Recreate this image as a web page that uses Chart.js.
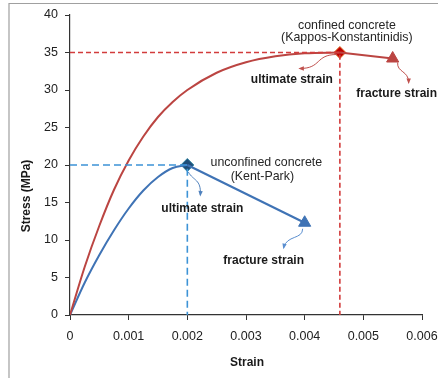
<!DOCTYPE html>
<html><head><meta charset="utf-8">
<script src="https://cdn.jsdelivr.net/npm/chart.js@4"></script>
<style>html,body{margin:0;padding:0;background:#fff}#wrap{position:relative;width:438px;height:378px}</style>
</head><body><div id="wrap"><canvas id="c" width="438" height="378"></canvas></div>
<script>
// ---- data ----
const confinedStrain = [0, 0.00025, 0.0005, 0.00075, 0.001, 0.00125, 0.0015, 0.00175, 0.002, 0.0025, 0.003, 0.0035, 0.004, 0.0046];
const confinedStress = [0, 6.4, 11.9, 16.7, 20.6, 23.8, 26.4, 28.4, 30.0, 32.3, 33.7, 34.5, 34.9, 35.0];
const confinedFractureStrain = 0.0055;
const confinedFractureStress = 34.2;
const unconfinedStrain = [0, 0.00025, 0.0005, 0.00075, 0.001, 0.00125, 0.0015, 0.00175, 0.002];
const unconfinedStress = [0, 4.3, 8.0, 11.3, 14.2, 16.6, 18.4, 19.6, 20.0];
const unconfinedFractureStrain = 0.004;
const unconfinedFractureStress = 12.3;
const xTickValues = [0, 0.001, 0.002, 0.003, 0.004, 0.005, 0.006];
const xTickLabels = ['0', '0.001', '0.002', '0.003', '0.004', '0.005', '0.006'];
const yTickValues = [0, 5, 10, 15, 20, 25, 30, 35, 40];
const yTickLabels = ['0', '5', '10', '15', '20', '25', '30', '35', '40'];
const xTitle = 'Strain';
const yTitle = 'Stress (MPa)';

const RED = '#bb4542', BLUE = '#3f73b5';
const pts = (xs, ys) => xs.map((x, i) => ({x, y: ys[i]}));
const cPeakX = confinedStrain[confinedStrain.length - 1], cPeakY = confinedStress[confinedStress.length - 1];
const uPeakX = unconfinedStrain[unconfinedStrain.length - 1], uPeakY = unconfinedStress[unconfinedStress.length - 1];

const datasets = [
  {data: [{x: 0, y: cPeakY}, {x: cPeakX, y: cPeakY}, {x: cPeakX, y: 0}], borderColor: '#d23c3c', borderWidth: 1.6, borderDash: [5, 3], pointRadius: 0, tension: 0},
  {data: [{x: 0, y: uPeakY}, {x: uPeakX, y: uPeakY}, {x: uPeakX, y: 0}], borderColor: '#3d93d6', borderWidth: 1.6, borderDash: [7, 4], pointRadius: 0, tension: 0},
  {data: pts(confinedStrain, confinedStress), borderColor: RED, borderWidth: 2, pointRadius: 0, cubicInterpolationMode: 'monotone'},
  {data: pts(unconfinedStrain, unconfinedStress), borderColor: BLUE, borderWidth: 2, pointRadius: 0, cubicInterpolationMode: 'monotone'},
  {data: [{x: cPeakX, y: cPeakY}, {x: confinedFractureStrain, y: confinedFractureStress}], borderColor: RED, borderWidth: 2, pointRadius: [0, 7], pointStyle: 'triangle', pointBackgroundColor: RED, pointBorderColor: RED, pointBorderWidth: 1},
  {data: [{x: uPeakX, y: uPeakY}, {x: unconfinedFractureStrain, y: unconfinedFractureStress}], borderColor: BLUE, borderWidth: 2.2, pointRadius: [0, 7], pointStyle: 'triangle', pointBackgroundColor: BLUE, pointBorderColor: BLUE, pointBorderWidth: 1},
  {data: [{x: cPeakX, y: cPeakY}], showLine: false, pointStyle: 'rectRot', pointRadius: 6, pointBackgroundColor: '#c00000', pointBorderColor: '#e0702a', pointBorderWidth: 1},
  {data: [{x: uPeakX, y: uPeakY}], showLine: false, pointStyle: 'rectRot', pointRadius: 6.5, pointBackgroundColor: '#1f4e79', pointBorderColor: '#3a8aa6', pointBorderWidth: 1}
];

const FONT = '"Liberation Sans", Arial, sans-serif';

function arrow(ctx, p0, c1, c2, p1, color, w) {
  ctx.save();
  ctx.strokeStyle = color; ctx.fillStyle = color; ctx.lineWidth = w;
  ctx.beginPath(); ctx.moveTo(p0[0], p0[1]);
  ctx.bezierCurveTo(c1[0], c1[1], c2[0], c2[1], p1[0], p1[1]);
  ctx.stroke();
  const ang = Math.atan2(p1[1] - c2[1], p1[0] - c2[0]);
  const L = 4, W = 2.2;
  ctx.beginPath();
  ctx.moveTo(p1[0] + Math.cos(ang) * 1.5, p1[1] + Math.sin(ang) * 1.5);
  ctx.lineTo(p1[0] - Math.cos(ang) * L + Math.sin(ang) * W, p1[1] - Math.sin(ang) * L - Math.cos(ang) * W);
  ctx.lineTo(p1[0] - Math.cos(ang) * L - Math.sin(ang) * W, p1[1] - Math.sin(ang) * L + Math.cos(ang) * W);
  ctx.closePath(); ctx.fill();
  ctx.restore();
}

const deco = {
  id: 'deco',
  beforeDraw(chart) {
    const ctx = chart.ctx;
    ctx.save();
    ctx.fillStyle = '#fff'; ctx.fillRect(0, 0, chart.width, chart.height);
    ctx.strokeStyle = '#a0a0a0'; ctx.lineWidth = 1.2;
    ctx.beginPath(); ctx.moveTo(9, 378); ctx.lineTo(9, 3.5); ctx.lineTo(438, 3.5); ctx.stroke();
    ctx.restore();
  },
  afterDraw(chart) {
    const ctx = chart.ctx, xs = chart.scales.x, ys = chart.scales.y;
    const P = (x, y) => [xs.getPixelForValue(x), ys.getPixelForValue(y)];
    const cp = P(cPeakX, cPeakY), cf = P(confinedFractureStrain, confinedFractureStress);
    const up = P(uPeakX, uPeakY), uf = P(unconfinedFractureStrain, unconfinedFractureStress);
    const ca = chart.chartArea;
    ctx.save();
    ctx.textAlign = 'center'; ctx.textBaseline = 'middle';
    // axis titles
    ctx.fillStyle = '#1a1a1a';
    ctx.font = 'bold 12px ' + FONT;
    ctx.fillText(xTitle, (ca.left + ca.right) / 2 + 1, 363);
    ctx.save(); ctx.translate(27, 196); ctx.rotate(-Math.PI / 2); ctx.fillText(yTitle, 0, 0); ctx.restore();
    // annotations
    ctx.fillStyle = '#262626';
    ctx.font = '12.4px ' + FONT;
    ctx.fillText('confined concrete', cp[0] + 7, cp[1] - 27);
    ctx.fillText('(Kappos-Konstantinidis)', cp[0] + 7, cp[1] - 14.5);
    ctx.fillText('unconfined concrete', up[0] + 79, up[1] - 2);
    ctx.fillText('(Kent-Park)', up[0] + 75, up[1] + 12);
    ctx.fillStyle = '#1a1a1a';
    ctx.font = 'bold 12px ' + FONT;
    ctx.fillText('ultimate strain', cp[0] - 48, cp[1] + 27);
    ctx.fillText('fracture strain', cf[0] + 4, cf[1] + 35);
    ctx.fillText('ultimate strain', up[0] + 15, up[1] + 44);
    ctx.fillText('fracture strain', uf[0] - 41, uf[1] + 38);
    ctx.restore();
    // small curved arrows
    arrow(ctx, [cp[0] - 3, cp[1] + 2], [cp[0] - 25, cp[1] + 2], [cp[0] - 18, cp[1] + 16], [cp[0] - 40, cp[1] + 16], '#c0504d', 1);
    arrow(ctx, [cf[0] + 5, cf[1] + 4], [cf[0] + 4, cf[1] + 14], [cf[0] + 16, cf[1] + 12], [cf[0] + 16, cf[1] + 24], '#c0504d', 1);
    arrow(ctx, [up[0] + 1, up[1] + 7], [up[0] + 6, up[1] + 16], [up[0] + 14, up[1] + 14], [up[0] + 13, up[1] + 30], '#4f81bd', 1);
    arrow(ctx, [uf[0] - 2, uf[1] + 6], [uf[0] - 2, uf[1] + 17], [uf[0] - 18, uf[1] + 12], [uf[0] - 21, uf[1] + 25], '#5b8fd0', 1);
  }
};

new Chart(document.getElementById('c'), {
  type: 'line',
  data: {datasets},
  plugins: [deco],
  options: {
    responsive: false, animation: false,
    layout: {padding: {left: 0, top: 15, right: 16, bottom: 0}},
    plugins: {legend: {display: false}, tooltip: {enabled: false}},
    elements: {line: {fill: false}},
    scales: {
      x: {
        type: 'linear', min: 0, max: 0.006,
        afterBuildTicks: s => { s.ticks = xTickValues.map(v => ({value: v})); },
        afterFit: s => { s.height = 63; s.paddingLeft = 0; s.paddingRight = 0; },
        ticks: {callback: (v, i) => xTickLabels[i], color: '#222', font: {family: FONT, size: 12.5}, padding: 9, maxRotation: 0, autoSkip: false},
        grid: {drawOnChartArea: false, drawTicks: true, tickLength: 5, color: '#333'},
        border: {color: '#333', width: 1.2}
      },
      y: {
        type: 'linear', min: 0, max: 40,
        afterBuildTicks: s => { s.ticks = yTickValues.map(v => ({value: v})); },
        afterFit: s => { s.width = 70; s.paddingTop = 0; s.paddingBottom = 0; },
        ticks: {callback: (v, i) => yTickLabels[i], color: '#222', font: {family: FONT, size: 12.5}, padding: 7, autoSkip: false},
        grid: {drawOnChartArea: false, drawTicks: true, tickLength: 5, color: '#333'},
        border: {color: '#333', width: 1.2}
      }
    }
  }
});
</script></body></html>
